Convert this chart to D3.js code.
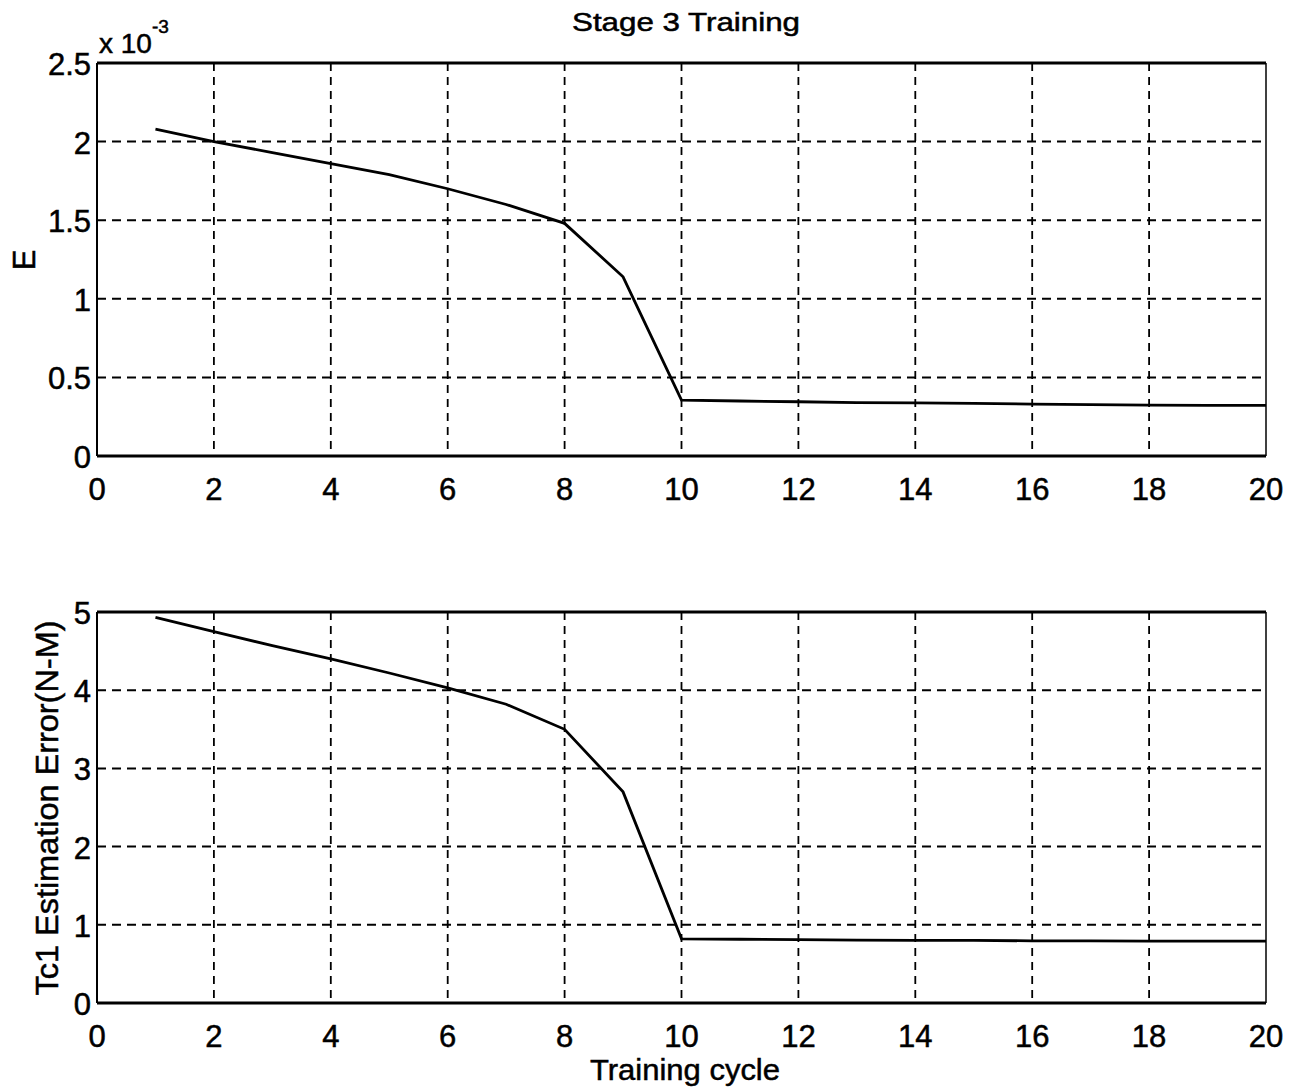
<!DOCTYPE html>
<html>
<head>
<meta charset="utf-8">
<script src="https://cdn.jsdelivr.net/npm/d3@7"></script>
<style>
  body { margin: 0; background: #fff; }
  text { font-family: "Liberation Sans", Arial, sans-serif; fill: #000; stroke: #000; stroke-width: 0.5px; }
</style>
</head>
<body>
<div id="chart"></div>
<script>
var cycles = [1, 2, 3, 4, 5, 6, 7, 8, 9, 10, 11, 12, 13, 14, 15, 16, 17, 18, 19, 20];
// E, in units of 1e-3
var errE = [2.08, 2.0, 1.93, 1.86, 1.79, 1.70, 1.60, 1.48, 1.14, 0.356, 0.35, 0.345, 0.34, 0.338, 0.335, 0.33, 0.327, 0.324, 0.322, 0.322];
// Tc1 estimation error (N-M)
var errTc1 = [4.93, 4.75, 4.57, 4.40, 4.22, 4.03, 3.82, 3.50, 2.70, 0.82, 0.815, 0.81, 0.805, 0.80, 0.80, 0.795, 0.795, 0.79, 0.79, 0.79];
var xTicks = [0, 2, 4, 6, 8, 10, 12, 14, 16, 18, 20];
var yTicksTop = [0, 0.5, 1, 1.5, 2, 2.5];
var yTicksBottom = [0, 1, 2, 3, 4, 5];

var W = 1292, H = 1092;
var svg = d3.select('#chart').append('svg')
  .attr('width', W).attr('height', H);

function panel(top, bottom, yMax, yTicks, values) {
  var x = d3.scaleLinear().domain([0, 20]).range([97, 1266]);
  var y = d3.scaleLinear().domain([0, yMax]).range([bottom, top]);
  var g = svg.append('g');

  // dashed grid
  g.selectAll('.vgrid').data(xTicks.slice(1, -1)).enter().append('line')
    .attr('x1', function(d) { return x(d); }).attr('x2', function(d) { return x(d); })
    .attr('y1', top).attr('y2', bottom)
    .attr('stroke', '#000').attr('stroke-width', 1.8).attr('stroke-dasharray', '8,6');
  g.selectAll('.hgrid').data(yTicks.slice(1, -1)).enter().append('line')
    .attr('x1', x(0)).attr('x2', x(20))
    .attr('y1', function(d) { return y(d); }).attr('y2', function(d) { return y(d); })
    .attr('stroke', '#000').attr('stroke-width', 2).attr('stroke-dasharray', '9,6');

  // box
  g.append('line').attr('x1', x(0)).attr('x2', x(20)).attr('y1', top).attr('y2', top)
    .attr('stroke', '#000').attr('stroke-width', 3);
  g.append('line').attr('x1', x(0)).attr('x2', x(20)).attr('y1', bottom).attr('y2', bottom)
    .attr('stroke', '#000').attr('stroke-width', 3);
  g.append('line').attr('x1', x(0)).attr('x2', x(0)).attr('y1', top).attr('y2', bottom)
    .attr('stroke', '#000').attr('stroke-width', 2);
  g.append('line').attr('x1', x(20)).attr('x2', x(20)).attr('y1', top).attr('y2', bottom)
    .attr('stroke', '#000').attr('stroke-width', 1.5);

  // tick labels
  g.selectAll('.xl').data(xTicks).enter().append('text')
    .attr('x', function(d) { return x(d); }).attr('y', bottom + 44)
    .attr('text-anchor', 'middle').attr('font-size', 31)
    .text(function(d) { return d; });
  g.selectAll('.yl').data(yTicks).enter().append('text')
    .attr('x', 91).attr('y', function(d) { return y(d) + 12; })
    .attr('text-anchor', 'end').attr('font-size', 31)
    .text(function(d) { return d; });

  // data line
  var line = d3.line()
    .x(function(d, i) { return x(cycles[i]); })
    .y(function(d) { return y(d); });
  g.append('path').datum(values)
    .attr('d', line).attr('fill', 'none')
    .attr('stroke', '#000').attr('stroke-width', 2.8);
  return g;
}

panel(63, 456, 2.5, yTicksTop, errE);
panel(612, 1003, 5, yTicksBottom, errTc1);

// titles and labels
svg.append('text').attr('x', 686).attr('y', 31).attr('text-anchor', 'middle')
  .attr('font-size', 25).attr('textLength', 228).attr('lengthAdjust', 'spacingAndGlyphs')
  .text('Stage 3 Training');

var mult = svg.append('text').attr('x', 99).attr('y', 53).attr('font-size', 28);
mult.append('tspan').text('x 10');
mult.append('tspan').attr('dy', -20).attr('font-size', 19).text('-3');

svg.append('text').attr('transform', 'translate(35,260) rotate(-90)')
  .attr('text-anchor', 'middle').attr('font-size', 31).text('E');
svg.append('text').attr('transform', 'translate(58,808) rotate(-90)')
  .attr('text-anchor', 'middle').attr('font-size', 31)
  .attr('textLength', 375).attr('lengthAdjust', 'spacingAndGlyphs')
  .text('Tc1 Estimation Error(N-M)');
svg.append('text').attr('x', 685).attr('y', 1080).attr('text-anchor', 'middle')
  .attr('font-size', 30).attr('textLength', 190).attr('lengthAdjust', 'spacingAndGlyphs')
  .text('Training cycle');
</script>
</body>
</html>
